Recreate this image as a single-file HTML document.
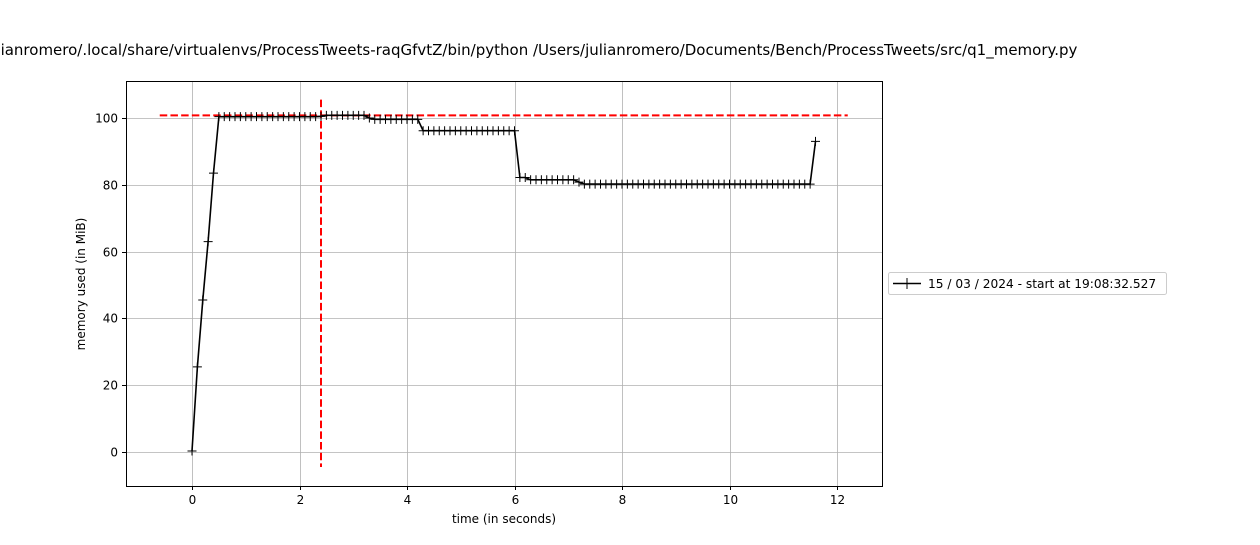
<!DOCTYPE html>
<html><head><meta charset="utf-8"><style>
body{margin:0;background:#fff;overflow:hidden;width:1260px;height:540px}
text{font-family:"DejaVu Sans","Liberation Sans",sans-serif;fill:#000}
</style></head><body>
<svg id="chart" width="1260" height="540" xmlns="http://www.w3.org/2000/svg">
<text x="504" y="55" font-size="15" text-anchor="middle">/Users/julianromero/.local/share/virtualenvs/ProcessTweets-raqGfvtZ/bin/python /Users/julianromero/Documents/Bench/ProcessTweets/src/q1_memory.py</text>
<g id="grid"></g>
<g id="ticks"></g>
<g id="series"></g>
<rect x="126.5" y="81.5" width="756" height="405" fill="none" stroke="#000" stroke-width="1"/>
<text x="504" y="523" font-size="12" text-anchor="middle">time (in seconds)</text>
<text transform="translate(85,284) rotate(-90)" font-size="12" text-anchor="middle">memory used (in MiB)</text>
<g>
<rect x="888.5" y="272.5" width="278" height="22" rx="2" fill="#fff" stroke="#ccc"/>
<line x1="893" y1="283.5" x2="921" y2="283.5" stroke="#000" stroke-width="1.5"/>
<line x1="907" y1="278" x2="907" y2="289" stroke="#000"/><line x1="902" y1="283.5" x2="912" y2="283.5" stroke="#000"/>
<text x="928" y="288" font-size="12.2">15 / 03 / 2024 - start at 19:08:32.527</text>
</g>
</svg>
<script>
const times=[0,0.1,0.2,0.3,0.4,0.5,0.6,0.7,0.8,0.9,1.0,1.1,1.2,1.3,1.4,1.5,1.6,1.7,1.8,1.9,2.0,2.1,2.2,2.3,2.4,2.5,2.6,2.7,2.8,2.9,3.0,3.1,3.2,3.3,3.4,3.5,3.6,3.7,3.8,3.9,4.0,4.1,4.2,4.3,4.4,4.5,4.6,4.7,4.8,4.9,5.0,5.1,5.2,5.3,5.4,5.5,5.6,5.7,5.8,5.9,6.0,6.1,6.2,6.3,6.4,6.5,6.6,6.7,6.8,6.9,7.0,7.1,7.2,7.3,7.4,7.5,7.6,7.7,7.8,7.9,8.0,8.1,8.2,8.3,8.4,8.5,8.6,8.7,8.8,8.9,9.0,9.1,9.2,9.3,9.4,9.5,9.6,9.7,9.8,9.9,10.0,10.1,10.2,10.3,10.4,10.5,10.6,10.7,10.8,10.9,11.0,11.1,11.2,11.3,11.4,11.5,11.6];
const memory=[0.3,25.5,45.5,63,83.5,100.4,100.4,100.4,100.4,100.4,100.4,100.4,100.4,100.4,100.4,100.4,100.4,100.4,100.4,100.4,100.4,100.4,100.4,100.4,100.5,100.8,100.8,100.8,100.8,100.8,100.8,100.8,100.8,100.0,99.6,99.6,99.6,99.6,99.6,99.6,99.6,99.6,99.6,96.2,96.2,96.2,96.2,96.2,96.2,96.2,96.2,96.2,96.2,96.2,96.2,96.2,96.2,96.2,96.2,96.2,96.2,82.2,82.2,81.5,81.5,81.5,81.5,81.5,81.5,81.5,81.5,81.5,80.8,80.2,80.2,80.2,80.2,80.2,80.2,80.2,80.2,80.2,80.2,80.2,80.2,80.2,80.2,80.2,80.2,80.2,80.2,80.2,80.2,80.2,80.2,80.2,80.2,80.2,80.2,80.2,80.2,80.2,80.2,80.2,80.2,80.2,80.2,80.2,80.2,80.2,80.2,80.2,80.2,80.2,80.2,80.2,93];
const xTicks=[0,2,4,6,8,10,12];
const yTicks=[0,20,40,60,80,100];
const peakMem=100.8, peakTime=2.4;
const hLineRange=[-0.6,12.2], vLineRange=[-4.5,105.5];

const X=t=>192+t*53.75;
const Y=v=>452-v*3.34;
const NS="http://www.w3.org/2000/svg";
function mk(tag,attrs,parent){const e=document.createElementNS(NS,tag);for(const k in attrs)e.setAttribute(k,attrs[k]);parent.appendChild(e);return e;}
const grid=document.getElementById('grid'),ticks=document.getElementById('ticks'),ser=document.getElementById('series');
xTicks.forEach(t=>{
  const x=Math.round(X(t))+0.5;
  const g=mk('line',{x1:x,x2:x,y1:82,y2:486,stroke:'#b0b0b0','stroke-width':0.8},grid);
  
  
  mk('line',{x1:x,x2:x,y1:486,y2:490,stroke:'#000'},ticks);
  const l=mk('text',{x:x,y:504,'font-size':12,'text-anchor':'middle'},ticks);
  l.textContent=t;
  
  
});
yTicks.forEach(v=>{
  const y=Math.round(Y(v))+0.5;
  const g=mk('line',{x1:127,x2:882,y1:y,y2:y,stroke:'#b0b0b0','stroke-width':0.8},grid);
  
  
  mk('line',{x1:122,x2:126,y1:y,y2:y,stroke:'#000'},ticks);
  const l=mk('text',{x:118,y:y+4,'font-size':12,'text-anchor':'end'},ticks);
  l.textContent=v;
  
  
});
const hl=mk('line',{x1:X(hLineRange[0]),x2:X(hLineRange[1]),y1:Y(peakMem),y2:Y(peakMem),stroke:'#f00','stroke-width':2,'stroke-dasharray':'7.5,3.2'},ser);


const vl=mk('line',{x1:X(peakTime),x2:X(peakTime),y1:Y(vLineRange[1]),y2:Y(vLineRange[0]),stroke:'#f00','stroke-width':2,'stroke-dasharray':'7.5,3.2'},ser);


const pts=times.map((t,i)=>X(t).toFixed(1)+','+Y(memory[i]).toFixed(1)).join(' ');
const pl=mk('polyline',{points:pts,fill:'none',stroke:'#000','stroke-width':1.6},ser);


times.forEach((t,i)=>{
  const x=X(t),y=Y(memory[i]);
  const m=mk('path',{d:`M${x-4.5},${y}H${x+4.5}M${x},${y-4.5}V${y+4.5}`,stroke:'#000','stroke-width':1},ser);
  
  
});
</script>
</body></html>
